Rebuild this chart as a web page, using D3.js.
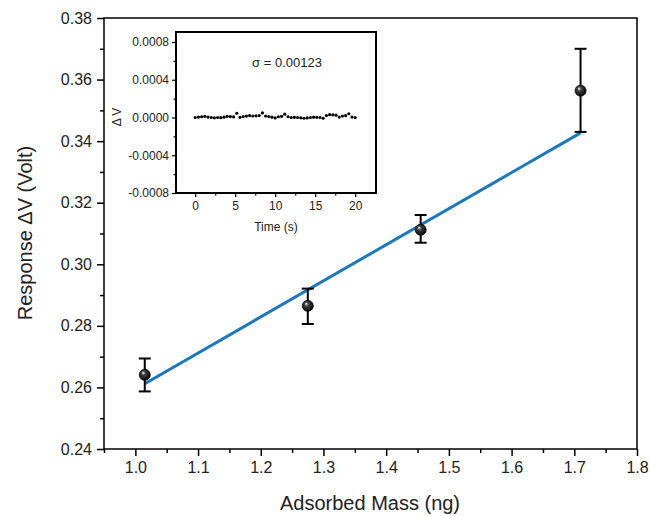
<!DOCTYPE html>
<html><head><meta charset="utf-8">
<script src="https://cdnjs.cloudflare.com/ajax/libs/d3/7.8.5/d3.min.js"></script>
<style>body{margin:0;background:#fff}svg{display:block;font-family:"Liberation Sans",Arial,sans-serif}</style>
</head><body><svg id="c" width="650" height="516"></svg>
<script>
// Main data
const mass = [1.015, 1.275, 1.455, 1.71];
const response = [0.2641, 0.2865, 0.3112, 0.3564];
const errLow = [0.2587, 0.2806, 0.3070, 0.3430];
const errHigh = [0.2694, 0.2921, 0.3160, 0.3700];
const fitX = [1.015, 1.71];
const fitY = [0.2612, 0.3427];
const xTicks = [1.0, 1.1, 1.2, 1.3, 1.4, 1.5, 1.6, 1.7, 1.8];
const yTicks = [0.24, 0.26, 0.28, 0.30, 0.32, 0.34, 0.36, 0.38];
// Inset data
const time = [0,0.4,0.8,1.2,1.6,2.0,2.4,2.8,3.2,3.6,4.0,4.4,4.8,5.2,5.6,6.0,6.4,6.8,7.2,7.6,8.0,8.4,8.8,9.2,9.6,10.0,10.4,10.8,11.2,11.6,12.0,12.4,12.8,13.2,13.6,14.0,14.4,14.8,15.2,15.6,16.0,16.4,16.8,17.2,17.6,18.0,18.4,18.8,19.2,19.6,20.0];
const noise = [0.000000,0.000005,0.000008,0.000012,0.000004,0.000000,-0.000003,0.000000,-0.000002,0.000003,0.000012,0.000010,0.000006,0.000045,0.000002,0.000010,0.000015,0.000020,0.000016,0.000018,0.000020,0.000048,0.000016,0.000010,0.000003,-0.000004,0.000008,0.000012,0.000035,0.000008,0.000000,0.000002,0.000000,-0.000003,-0.000008,-0.000005,0.000000,0.000003,0.000002,0.000000,-0.000008,0.000020,0.000030,0.000028,0.000025,0.000005,0.000015,0.000020,0.000040,0.000005,0.000000];
const insetXTicks = [0, 5, 10, 15, 20];
const insetYTicks = [-0.0008, -0.0004, 0, 0.0004, 0.0008];

const svg = d3.select("#c");
const defs = svg.append("defs");
const g = defs.append("radialGradient").attr("id","ball").attr("cx","0.45").attr("cy","0.45").attr("r","0.6").attr("fx","0.35").attr("fy","0.3");
g.append("stop").attr("offset","0").attr("stop-color","#ffffff");
g.append("stop").attr("offset","0.3").attr("stop-color","#444");
g.append("stop").attr("offset","1").attr("stop-color","#000");

const L=104, R=637, T=18, B=449;
const x = d3.scaleLinear().domain([0.95, 1.8]).range([L, R]);
const y = d3.scaleLinear().domain([0.24, 0.38]).range([B, T]);
const FONT = "Liberation Sans, Arial, sans-serif";

// frame
svg.append("rect").attr("x",L).attr("y",T).attr("width",R-L).attr("height",B-T)
  .attr("fill","none").attr("stroke","#000").attr("stroke-width",1.5);

// axes
const xMinor = d3.range(0.95, 1.801, 0.1).map(v=>+v.toFixed(2));
const yMinor = d3.range(0.25, 0.38, 0.02).map(v=>+v.toFixed(2));
const xa = svg.append("g").attr("transform",`translate(0,${B})`)
  .call(d3.axisBottom(x).tickValues(xTicks).tickFormat(d3.format(".1f")).tickSizeOuter(0).tickSizeInner(7).tickPadding(6));
const xm = svg.append("g").attr("transform",`translate(0,${B})`)
  .call(d3.axisBottom(x).tickValues(xMinor).tickFormat("").tickSizeOuter(0).tickSizeInner(4));
const ya = svg.append("g").attr("transform",`translate(${L},0)`)
  .call(d3.axisLeft(y).tickValues(yTicks).tickFormat(d3.format(".2f")).tickSizeOuter(0).tickSizeInner(7).tickPadding(5));
const ym = svg.append("g").attr("transform",`translate(${L},0)`)
  .call(d3.axisLeft(y).tickValues(yMinor).tickFormat("").tickSizeOuter(0).tickSizeInner(4));
[xa,xm,ya,ym].forEach(a=>{a.select(".domain").remove();a.selectAll(".tick line").attr("stroke","#000").attr("stroke-width",1.5);});
xa.selectAll("text").attr("font-size",16).attr("fill","#222").attr("font-family",FONT);
ya.selectAll("text").attr("font-size",16).attr("fill","#222").attr("font-family",FONT);

svg.append("text").attr("x",370).attr("y",510).attr("text-anchor","middle").attr("font-size",20).attr("fill","#222").text("Adsorbed Mass (ng)");
svg.append("text").attr("transform","translate(32,233) rotate(-90)").attr("text-anchor","middle").attr("font-size",20).attr("fill","#222").text("Response ΔV (Volt)");

// fit line
svg.append("line").attr("x1",x(fitX[0])).attr("y1",y(fitY[0])).attr("x2",x(fitX[1])).attr("y2",y(fitY[1]))
  .attr("stroke","#1b78bb").attr("stroke-width",3);

// error bars
const eb = svg.append("g").selectAll("g").data(mass).join("g");
eb.append("line").attr("x1",d=>x(d)).attr("x2",d=>x(d)).attr("y1",(d,i)=>y(errLow[i])).attr("y2",(d,i)=>y(errHigh[i])).attr("stroke","#000").attr("stroke-width",2);
eb.append("line").attr("x1",d=>x(d)-6).attr("x2",d=>x(d)+6).attr("y1",(d,i)=>y(errLow[i])).attr("y2",(d,i)=>y(errLow[i])).attr("stroke","#000").attr("stroke-width",2);
eb.append("line").attr("x1",d=>x(d)-6).attr("x2",d=>x(d)+6).attr("y1",(d,i)=>y(errHigh[i])).attr("y2",(d,i)=>y(errHigh[i])).attr("stroke","#000").attr("stroke-width",2);
eb.append("circle").attr("cx",d=>x(d)).attr("cy",(d,i)=>y(response[i])).attr("r",5.5).attr("fill","url(#ball)").attr("stroke","#000").attr("stroke-width",0.8);

// inset
const iL=176, iR=376, iT=32, iB=193;
const ix = d3.scaleLinear().domain([-2.4, 22.6]).range([iL, iR]);
const iy = d3.scaleLinear().domain([-0.0008, 0.000906]).range([iB, iT]);
svg.append("rect").attr("x",iL).attr("y",iT).attr("width",iR-iL).attr("height",iB-iT).attr("fill","#fff").attr("stroke","#000").attr("stroke-width",2);
const ixa = svg.append("g").attr("transform",`translate(0,${iB})`)
  .call(d3.axisBottom(ix).tickValues(insetXTicks).tickSizeOuter(0).tickSizeInner(4).tickPadding(4));
const ixm = svg.append("g").attr("transform",`translate(0,${iB})`)
  .call(d3.axisBottom(ix).tickValues([2.5,7.5,12.5,17.5]).tickFormat("").tickSizeOuter(0).tickSizeInner(2.5));
const iya = svg.append("g").attr("transform",`translate(${iL},0)`)
  .call(d3.axisLeft(iy).tickValues(insetYTicks).tickFormat(d=>d3.format(".4f")(d).replace("−","-")).tickSizeOuter(0).tickSizeInner(4).tickPadding(3));
const iym = svg.append("g").attr("transform",`translate(${iL},0)`)
  .call(d3.axisLeft(iy).tickValues([-0.0006,-0.0002,0.0002,0.0006]).tickFormat("").tickSizeOuter(0).tickSizeInner(2.5));
[ixa,ixm,iya,iym].forEach(a=>{a.select(".domain").remove();a.selectAll(".tick line").attr("stroke","#000").attr("stroke-width",1.2);});
ixa.selectAll("text").attr("font-size",12).attr("fill","#222").attr("font-family",FONT);
iya.selectAll("text").attr("font-size",12).attr("fill","#222").attr("font-family",FONT);

svg.append("g").selectAll("circle").data(time).join("circle")
  .attr("cx",d=>ix(d)).attr("cy",(d,i)=>iy(noise[i])).attr("r",1.6).attr("fill","#000");
svg.append("text").attr("x",287).attr("y",67).attr("text-anchor","middle").attr("font-size",13).attr("fill","#222").text("σ = 0.00123");
svg.append("text").attr("x",276).attr("y",231).attr("text-anchor","middle").attr("font-size",12).attr("fill","#222").text("Time (s)");
svg.append("text").attr("transform","translate(121,117) rotate(-90)").attr("text-anchor","middle").attr("font-size",12).attr("fill","#222").text("Δ V");
</script></body></html>
